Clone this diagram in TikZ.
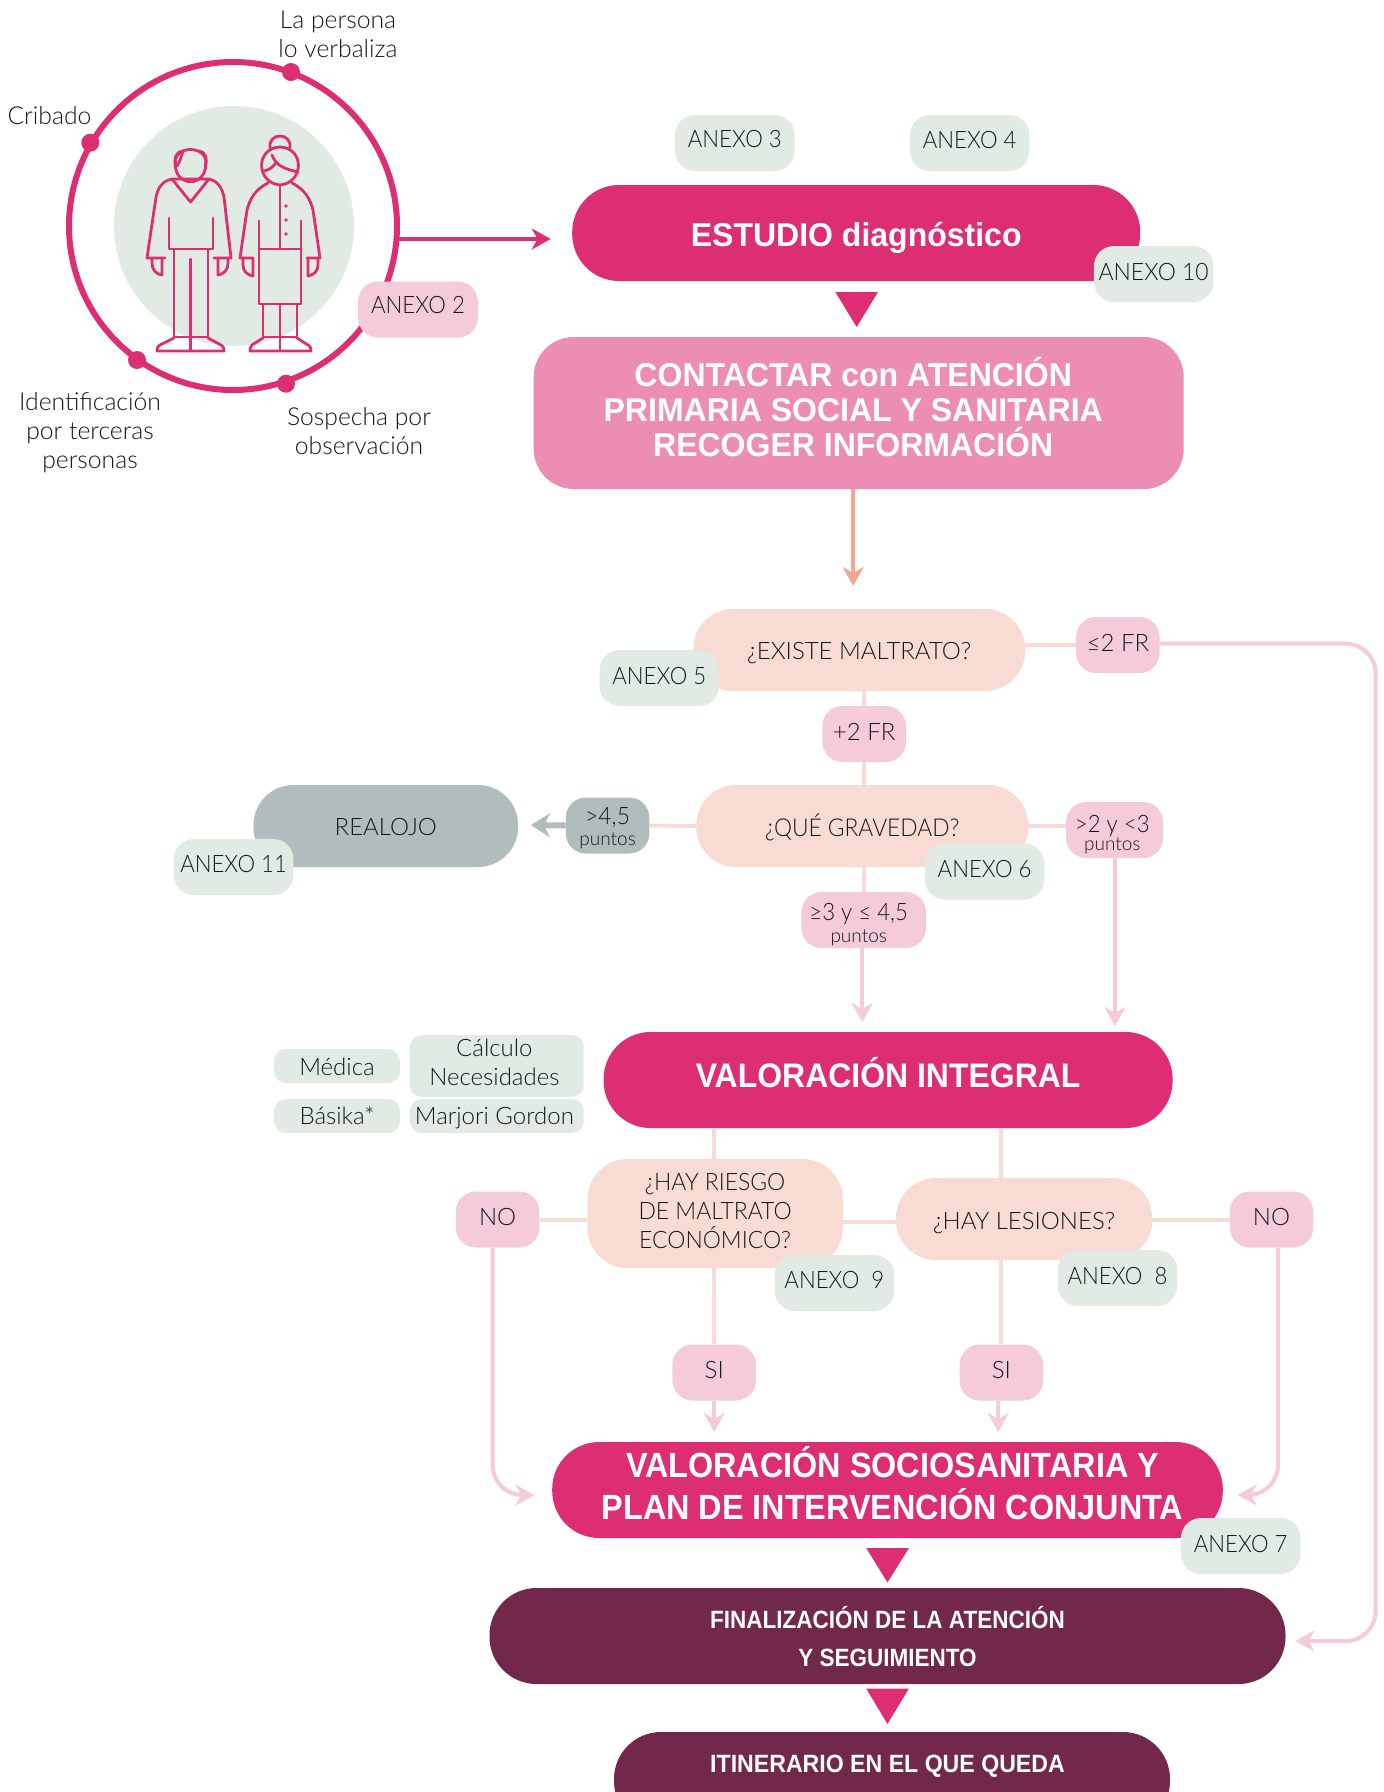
\documentclass[tikz,border=0pt]{standalone}
\usepackage{fontspec}
\setmainfont{Lato Light}
\newfontfamily\capf{Lato Light}[FakeStretch=0.925]
\newfontfamily\capg{Lato Light}[FakeStretch=0.955]
\newfontfamily\boldf{Liberation Sans}
\newfontfamily\boldb{Liberation Sans}[FakeStretch=0.97]
\newfontfamily\boldc{Liberation Sans}[FakeStretch=0.94]
\newfontfamily\boldd{Liberation Sans}[FakeStretch=0.925]
\newfontfamily\bolde{Liberation Sans}[FakeStretch=0.90]
\usetikzlibrary{arrows.meta,shapes.geometric}
\definecolor{magenta}{HTML}{DD2E73}
\definecolor{rosa}{HTML}{EC8EB3}
\definecolor{peach}{HTML}{F8DCD3}
\definecolor{lpink}{HTML}{F5CBDC}
\definecolor{lgreen}{HTML}{E1EBE3}
\definecolor{greyb}{HTML}{B1BDBC}
\definecolor{maroon}{HTML}{71284B}
\definecolor{salmon}{HTML}{F0A890}
\definecolor{ink}{HTML}{14181A}
\newcommand{\txtf}{\fontsize{24}{29}\selectfont}
\newcommand{\lblf}{\fontsize{24.7}{29}\selectfont}
\newcommand{\smf}{\fontsize{19}{20}\selectfont}
\newcommand{\up}[2]{\raisebox{#1pt}[\height][\depth]{#2}}
\tikzset{
  x=1pt,y=-1pt,
  base/.style={inner sep=0pt,align=center,text=ink,font=\txtf},
  annex/.style={base,fill=lgreen,rounded corners=20pt,minimum width=119.5pt,minimum height=56pt},
  cond/.style={base,fill=lpink,rounded corners=20pt,minimum width=83.5pt,minimum height=56pt},
  ask/.style={base,fill=peach,rounded corners=40pt,minimum width=332pt,minimum height=82pt},
  pill/.style={inner sep=0pt,align=center,text=white,fill=magenta,rounded corners=47pt,minimum height=96pt},
  dark/.style={pill,fill=maroon},
  free/.style={base,font=\lblf},
  chip/.style={base,fill=lgreen,rounded corners=12pt},
  pk/.style={line width=4pt,draw=peach},
  lp/.style={line width=4pt,draw=lpink},
  head/.style={-{Stealth[length=19pt,width=21pt,inset=6pt]}},
  fig/.style={draw=magenta,line width=2.8pt,line cap=round,line join=round},
  tri/.style={fill=magenta},
  dot/.style={circle,fill=magenta,minimum size=18pt,inner sep=0pt},
}
\begin{document}
\begin{tikzpicture}
\useasboundingbox (0,0) rectangle (1384,1792);
\clip (0,0) rectangle (1384,1792);
\fill[white] (0,0) rectangle (1384,1792);

% ring and figures
\node[circle,fill=lgreen,minimum size=240pt,inner sep=0pt] (disc) at (234,226) {};
\node[circle,draw=magenta,line width=6pt,minimum size=328pt,inner sep=0pt] (ring) at (233,226) {};
\node[dot] (d1) at (291,72) {};
\node[dot] (d2) at (90.3,142.7) {};
\node[dot] (d3) at (137,360) {};
\node[dot] (d4) at (286,383.7) {};
\node[free] (lb1) at (338,34.5) {La persona\\lo verbaliza};
\node[free] (lb2) at (49.5,116) {Cribado};
\node[free] (lb3) at (90,433) {Identificación\\por terceras\\personas};
\node[free] (lb4) at (359,431.5) {Sospecha por\\observación};

% man
\draw[fig] (175,163) .. controls (175,188) and (206,188) .. (206,163) .. controls (206,145) and (175,145) .. (175,163) -- cycle;
\draw[fig] (177,166) .. controls (173,160) and (175,152) .. (183,151) .. controls (181,157) and (180,162) .. (177,166);
\draw[fig] (205,166) .. controls (208,160) and (206,152) .. (199,151);
\draw[fig] (172,179) -- (190.5,202) -- (209,179) -- (172,179);
\draw[fig] (172,179) .. controls (162,181) and (158,188) .. (156,197) -- (147,258) -- (165,258);
\draw[fig] (209,179) .. controls (218,181) and (222,188) .. (224,197) -- (231,258) -- (214,258);
\draw[fig] (169,218) -- (169,249) -- (213,249) -- (213,218);
\draw[fig] (174,249) -- (174,337) -- (208,337) -- (208,249);
\draw[fig] (190.5,259) -- (190.5,351);
\draw[fig] (152,258) -- (152,263) .. controls (152,270) and (156,274) .. (162,275) -- (162,258);
\draw[fig] (228,258) -- (228,263) .. controls (228,270) and (224,274) .. (218,275) -- (218,258);
\draw[fig] (174,338) -- (160,345) .. controls (157,347) and (157,349) .. (157,351) -- (224,351) .. controls (224,349) and (224,347) .. (221,345) -- (208,338);
% woman
\draw[fig] (280,147) .. controls (255,148) and (256,183) .. (280,185) .. controls (304,183) and (305,148) .. (280,147) -- cycle;
\draw[fig] (270,148) .. controls (268,132) and (292,132) .. (290,148);
\draw[fig] (272,155) .. controls (276,166) and (285,169) .. (298,172);
\draw[fig] (264,171) .. controls (269,170) and (273,167) .. (276,163);
\draw[fig] (268,183) .. controls (256,189) and (250,198) .. (247,210) -- (240,258) -- (253,258);
\draw[fig] (292,183) .. controls (304,189) and (310,198) .. (313,210) -- (320,258) -- (307,258);
\draw[fig] (280,187) -- (280,249);
\fill[magenta] (286,206) circle (1.8) (286,220) circle (1.8) (286,234) circle (1.8);
\draw[fig] (259,221) -- (259,304) -- (301,304) -- (301,221);
\draw[fig] (259,249) -- (301,249);
\draw[fig] (263,304) -- (263,337) -- (297,337) -- (297,304);
\draw[fig] (280,304) -- (280,351);
\draw[fig] (243,258) -- (243,265) .. controls (243,271) and (247,275) .. (253,276) -- (253,258);
\draw[fig] (318,258) -- (318,265) .. controls (318,271) and (314,275) .. (308,276) -- (308,258);
\draw[fig] (263,338) -- (252,345) .. controls (250,347) and (250,349) .. (250,351) -- (311,351) .. controls (311,349) and (311,347) .. (308,345) -- (297,338);

\node[base,fill=lpink,rounded corners=20pt,minimum width=120pt,minimum height=56pt] (a2) at (418,309.5) {\up{4.5}{\capf ANEXO 2}};

% top flow
\node[pill,minimum width=568pt,font=\boldb\bfseries\fontsize{33}{35}\selectfont] (est) at (856.2,233) {\up{-4.5}{ESTUDIO diagnóstico}};
\node[annex] (a3) at (734.8,143) {\up{3.5}{\capf ANEXO 3}};
\node[annex] (a4) at (969.7,143) {\up{3.5}{\capf ANEXO 4}};
\node[annex] (a10) at (1153.7,274) {\up{2.3}{\capg ANEXO 10}};
\fill[tri] (835.3,292) -- (878,292) -- (856.7,327) -- cycle;
\node[pill,fill=rosa,rounded corners=40pt,minimum width=650pt,minimum height=152pt,font=\boldb\bfseries\fontsize{33}{35}\selectfont] (con) at (858.7,413) {\hspace*{-11pt}\up{5.7}{CONTACTAR con ATENCIÓN}\\\hspace*{-11pt}\up{5.7}{PRIMARIA SOCIAL Y SANITARIA}\\\hspace*{-11pt}\up{5.7}{RECOGER INFORMACIÓN}};
\coordinate (rs) at (398,239);
\coordinate (re) at (550.7,239);
\draw[line width=4pt,magenta,head] (rs) -- (re);
\coordinate (ce) at (853.2,586);
\draw[line width=4pt,salmon,head] (con.south -| ce) -- (ce);

% questions
\node[ask] (ex) at (859.2,650) {\up{-3.4}{¿EXISTE MALTRATO?}};
\node[annex] (a5) at (659.3,678) {\up{2.3}{\capf ANEXO 5}};
\node[cond] (le2) at (1117.9,645) {\up{2.3}{≤2 FR}};
\node[cond] (pl2) at (864.2,734) {\up{2.3}{+2 FR}};
\node[ask] (qu) at (862.2,826) {\up{-1}{\capf\fontsize{24.6}{29}\selectfont ¿QUÉ GRAVEDAD?}};
\node[base,fill=greyb,rounded corners=40pt,minimum width=264.6pt,minimum height=82pt] (rea) at (385.8,826) {\up{-1}{REALOJO}};
\node[annex] (a11) at (233.6,867) {\up{3.4}{\capf ANEXO 11}};
\node[cond,fill=greyb] (g45) at (607.6,825.5) {\up{-2.3}{\capg >4,5}\\[-8pt]\up{-2.3}{\smf puntos}};
\node[annex] (a6) at (984.6,871.5) {\up{2.3}{\capf ANEXO 6}};
\node[cond,minimum width=97pt] (g2) at (1114.6,830) {\hspace*{-4.6pt}\up{-5.7}{\capf >2 y <3}\\[-8pt]\hspace*{-4.6pt}\up{-3.4}{\smf puntos}};
\node[cond,minimum width=124.5pt] (g3) at (863.7,920) {\hspace*{-10pt}\up{-4.5}{\capf ≥3 y ≤ 4,5}\\[-8pt]\hspace*{-10pt}\up{-5.5}{\smf puntos}};
\draw[pk] (ex.east |- le2) -- (le2.west);
\draw[pk] (pl2.north) -- (pl2.north |- ex.south);
\draw[pk] (pl2.south) -- (pl2.south |- qu.north);
\draw[pk] (qu.west) -- (g45.east);
\draw[pk] (qu.east) -- (qu.east -| g2.west);
\draw[pk] (qu.south -| pl2) -- (g3.north -| pl2);
\coordinate (ae) at (531,825);
\draw[line width=6pt,greyb,-{Stealth[length=19pt,width=24pt,inset=6pt]}] (g45.west) -- (ae);
\coordinate (v1) at (862.2,1022);
\coordinate (v2) at (1114.9,1026);
\draw[lp,head] (g3.south -| v1) -- (v1);
\draw[lp,head] (g2.south -| v2) -- (v2);

% valoracion integral
\node[pill,minimum width=569pt,font=\boldc\bfseries\fontsize{34}{36}\selectfont] (vi) at (888.1,1080) {\up{7.7}{VALORACIÓN INTEGRAL}};
\node[chip,minimum width=126pt,minimum height=34pt] (med) at (337,1066) {\up{-1}{Médica}};
\node[chip,minimum width=174pt,minimum height=62pt] (cal) at (496.7,1066) {\hspace*{-4.6pt}\up{3.4}{Cálculo}\\\hspace*{-4.6pt}\up{3.4}{Necesidades}};
\node[chip,minimum width=126pt,minimum height=34pt] (bas) at (337,1116) {Básika*};
\node[chip,minimum width=174pt,minimum height=34pt] (mar) at (496.7,1116) {\hspace*{-4.6pt}\up{-2.3}{Marjori Gordon}};

% branches
\node[ask,minimum width=255.3pt,minimum height=109pt] (ri) at (715.1,1213.5) {\up{2.3}{\capg ¿HAY RIESGO}\\\up{2.3}{\capg DE MALTRATO}\\\up{2.3}{\capg ECONÓMICO?}};
\node[ask,minimum width=256.3pt,minimum height=82pt] (les) at (1024.1,1219) {\up{-4.5}{¿HAY LESIONES?}};
\node[cond] (nol) at (497.6,1219.5) {\up{2.3}{NO}};
\node[cond] (nor) at (1271.5,1219.5) {\up{2.3}{NO}};
\node[cond] (si1) at (714.2,1372.5) {\up{2.3}{SI}};
\node[cond] (si2) at (1001.3,1372.5) {\up{2.3}{SI}};
\draw[pk] (nol.east) -- (nol.east -| ri.west);
\draw[pk] (ri.east |- 0,1222) -- (les.west |- 0,1222);
\draw[pk] (les.east |- nor) -- (nor.west);
\draw[pk] (si1.north |- vi.south) -- (si1.north |- ri.north);
\draw[pk] (si1.north |- ri.south) -- (si1.north);
\draw[pk] (si2.north |- vi.south) -- (si2.north |- les.north);
\draw[pk] (si2.north |- les.south) -- (si2.north);
\node[annex] (a9) at (834.4,1283) {\up{3.4}{\capf ANEXO\ \ 9}};
\node[annex] (a8) at (1117.5,1278) {\up{2.3}{\capf ANEXO\ \ 8}};

% lower flow
\node[pill,minimum width=670.6pt,font=\boldd\bfseries\fontsize{35}{42}\selectfont] (so) at (887.5,1490) {\hspace*{10pt}\up{6.8}{VALORACIÓN SOCIOSANITARIA Y}\\\hspace*{10pt}\up{6.8}{PLAN DE INTERVENCIÓN CONJUNTA}};
\node[annex] (a7) at (1240.7,1546) {\up{2.3}{\capf ANEXO 7}};
\fill[tri] (866.2,1548) -- (908.9,1548) -- (887.5,1582.5) -- cycle;
\node[dark,minimum width=796pt,font=\bolde\bfseries\fontsize{25}{37}\selectfont] (fi) at (887.5,1636) {FINALIZACIÓN DE LA ATENCIÓN\\\up{-1}{Y SEGUIMIENTO}};
\fill[tri] (866.2,1688.5) -- (908.9,1688.5) -- (887.5,1724) -- cycle;
\node[dark,minimum width=556pt] (it) at (892,1780) {};
\node[text=white,inner sep=0pt,font=\boldd\bfseries\fontsize{25}{30}\selectfont] (itt) at (887.5,1766) {ITINERARIO EN EL QUE QUEDA};

\coordinate (s1) at (714.2,1432);
\coordinate (s2) at (998.3,1432);
\draw[lp,head] (si1.south -| s1) -- (s1);
\draw[lp,head] (si2.south -| s2) -- (s2);
\coordinate (nl) at (534.3,1495);
\coordinate (nr) at (1237.8,1495);
\draw[lp,head,rounded corners=30pt] (nol.south -| 492.6,0) -- (492.6,1495) -- (nl);
\draw[lp,head,rounded corners=30pt] (nor.south -| 1278,0) -- (1278,1495) -- (nr);
\coordinate (fe) at (1295.4,1641);
\draw[lp,head,rounded corners=30pt] (le2.east |- 0,643.6) -- (1375.7,643.6) -- (1375.7,1641) -- (fe);
\end{tikzpicture}
\end{document}
